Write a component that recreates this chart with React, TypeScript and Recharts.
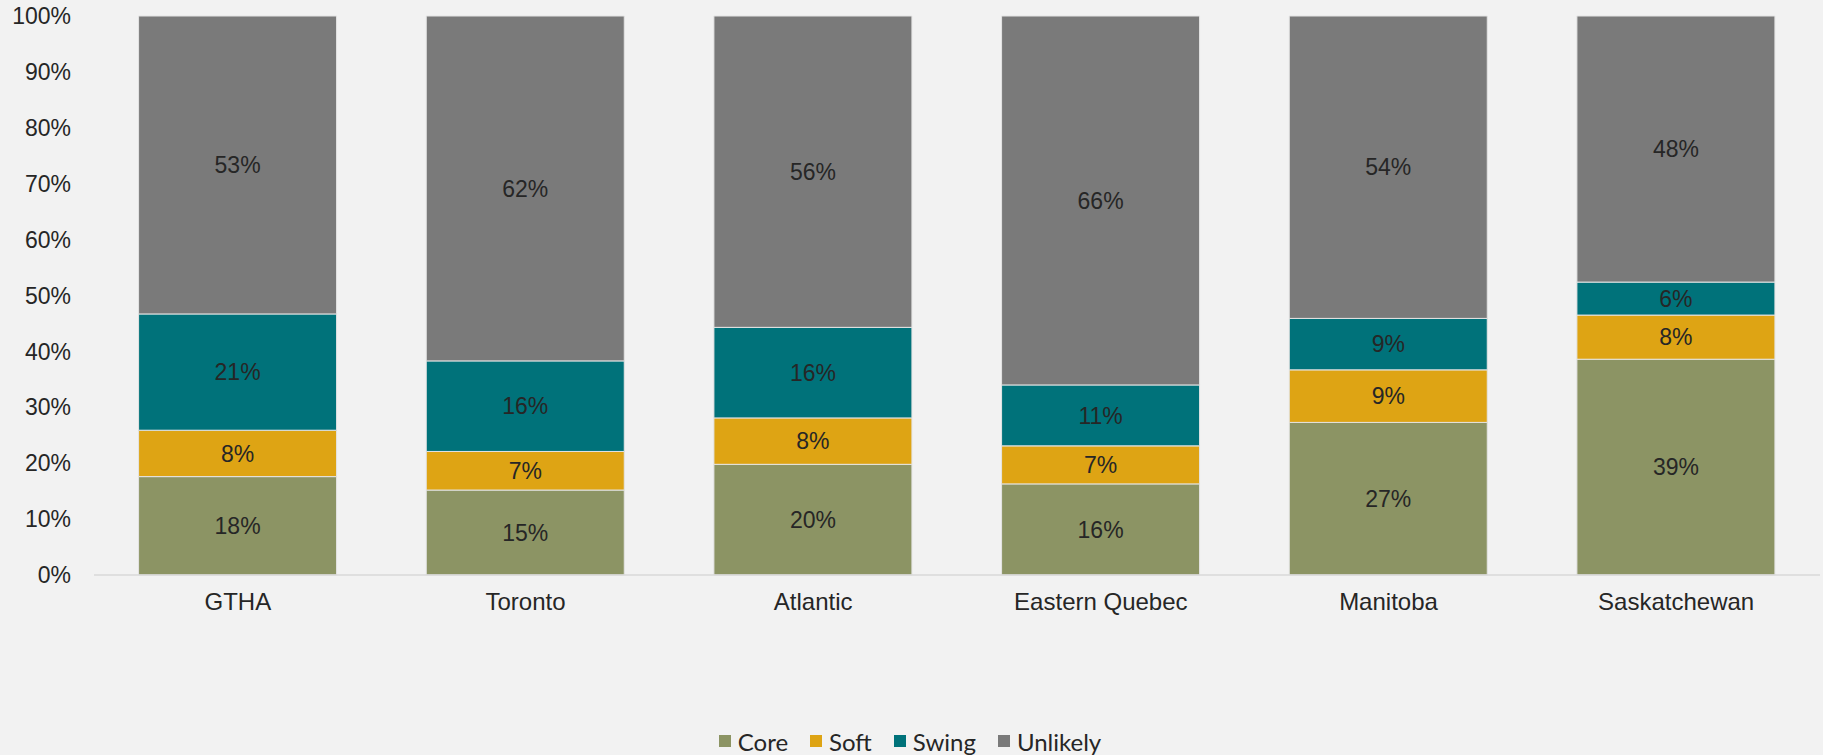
import { BarChart, Bar, XAxis, YAxis, Legend, LabelList } from "recharts";

const regions = ["GTHA", "Toronto", "Atlantic", "Eastern Quebec", "Manitoba", "Saskatchewan"];
const core = [17.6, 15.2, 19.8, 16.3, 27.3, 38.6];
const soft = [8.3, 6.9, 8.3, 6.8, 9.4, 7.9];
const swing = [20.8, 16.2, 16.2, 10.9, 9.2, 5.9];
const unlikely = [53.3, 61.7, 55.7, 66.0, 54.1, 47.6];
const yTicks = [0, 10, 20, 30, 40, 50, 60, 70, 80, 90, 100];

const series = [
    { key: "core", name: "Core", color: "#8c9464" },
    { key: "soft", name: "Soft", color: "#dea414" },
    { key: "swing", name: "Swing", color: "#00727a" },
    { key: "unlikely", name: "Unlikely", color: "#7a7a7a" },
];

const data = regions.map((region, i) => ({
    region,
    core: core[i],
    soft: soft[i],
    swing: swing[i],
    unlikely: unlikely[i],
}));

const sans = "Liberation Sans, Arial, sans-serif";
const tickFont = { fontSize: 23, fill: "#262626", fontFamily: sans };

function LegendBox() {
    return (
        <div
            style={{
                display: "flex",
                justifyContent: "center",
                alignItems: "center",
                height: 28,
                fontFamily: "Lato, sans-serif",
                fontSize: 24,
                color: "#262626",
            }}
        >
            {series.map((s) => (
                <div key={s.key} style={{ display: "flex", alignItems: "center", margin: "0 11px" }}>
                    <span style={{ width: 12, height: 12, background: s.color, marginRight: 7 }} />
                    <span>{s.name}</span>
                </div>
            ))}
        </div>
    );
}

export default function App() {
    return (
        <div style={{ width: 1823, height: 755, background: "#f2f2f2" }}>
            <style>{"body{margin:0}"}</style>
            <BarChart
                width={1823}
                height={755}
                data={data}
                margin={{ top: 16, right: 3, left: 0, bottom: 0 }}
                barCategoryGap="15.5%"
            >
                <XAxis
                    dataKey="region"
                    height={152}
                    tick={{ ...tickFont, fontSize: 24 }}
                    tickLine={false}
                    tickSize={0}
                    tickMargin={18}
                    axisLine={{ stroke: "#d9d9d9", strokeWidth: 1.5 }}
                    interval={0}
                />
                <YAxis
                    width={94}
                    domain={[0, 100]}
                    ticks={yTicks}
                    tick={tickFont}
                    tickLine={false}
                    tickSize={0}
                    tickMargin={23}
                    axisLine={false}
                    tickFormatter={(v) => `${v}%`}
                />
                <Legend verticalAlign="bottom" height={28} content={() => <LegendBox />} />
                {series.map((s) => (
                    <Bar
                        key={s.key}
                        dataKey={s.key}
                        name={s.name}
                        stackId="a"
                        fill={s.color}
                        stroke="#e4e4e4"
                        strokeWidth={1}
                        isAnimationActive={false}
                    >
                        <LabelList
                            dataKey={s.key}
                            position="center"
                            formatter={(v: number) => `${Math.round(v)}%`}
                            style={{ fontSize: 23, fill: "#262626", fontFamily: sans }}
                        />
                    </Bar>
                ))}
            </BarChart>
        </div>
    );
}
